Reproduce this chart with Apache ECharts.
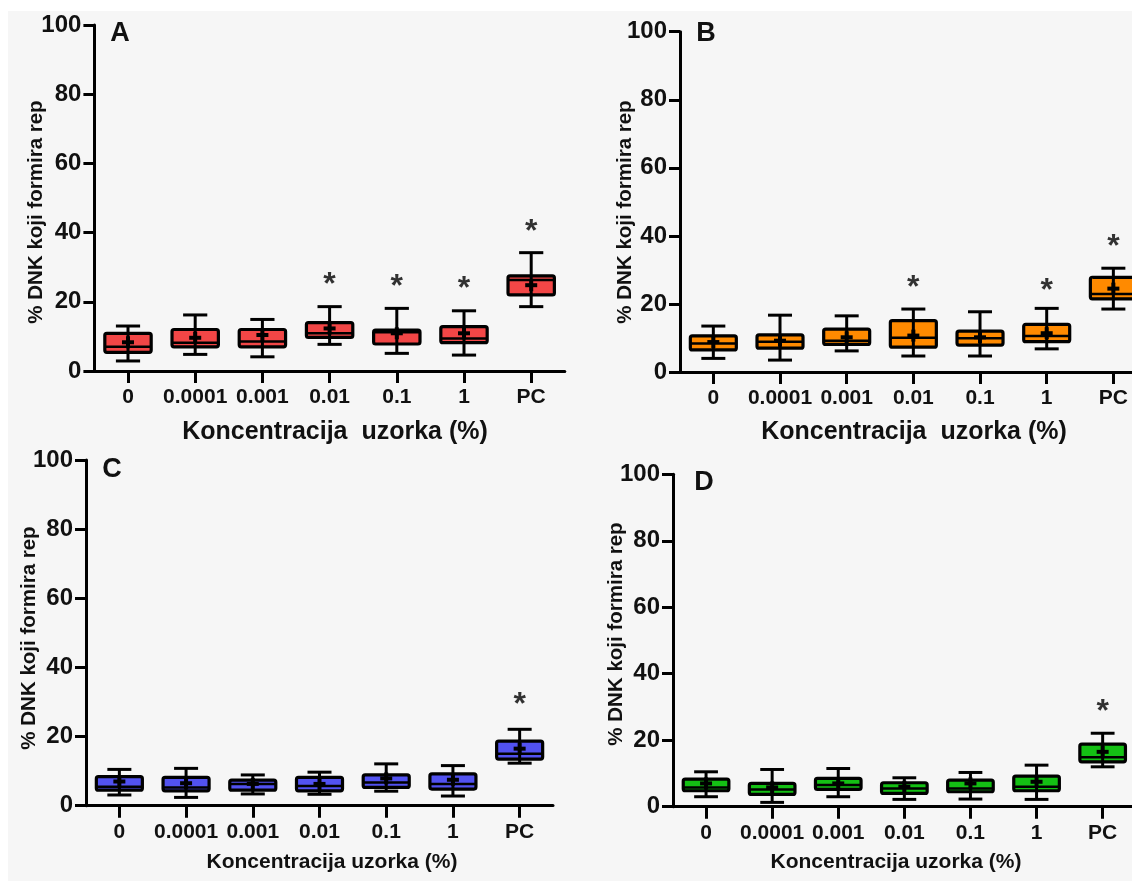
<!DOCTYPE html>
<html><head><meta charset="utf-8">
<script src="https://cdn.jsdelivr.net/npm/echarts@6/dist/echarts.min.js"></script>
<style>html,body{margin:0;padding:0;background:#ffffff}#c{width:1132px;height:881px}</style>
</head><body><div id="c"></div>
<script>
const categories = ['0', '0.0001', '0.001', '0.01', '0.1', '1', 'PC'];
const yTickMin = 0, yTickMax = 100, yTickStep = 20;

// Panel A (red)
const aMin  = [2.9, 4.8, 4.1, 7.7, 5.1, 4.6, 18.6];
const aQ1   = [5.4, 7.0, 7.0, 9.7, 7.8, 8.2, 22.0];
const aMed  = [7.0, 8.2, 8.5, 10.9, 11.2, 9.4, 26.3];
const aQ3   = [10.9, 12.0, 12.0, 14.0, 11.8, 12.8, 27.5];
const aMax  = [13.0, 16.2, 14.9, 18.6, 18.1, 17.4, 34.2];
const aMean = [8.3, 9.6, 10.4, 12.3, 10.9, 10.9, 24.8];
const aStar = [null, null, null, 26.8, 26.3, 25.8, 42.2];

// Panel B (orange)
const bMin  = [4.0, 3.5, 6.2, 4.7, 4.7, 6.8, 18.5];
const bQ1   = [6.5, 7.0, 8.1, 7.3, 7.9, 8.9, 21.5];
const bMed  = [8.4, 8.9, 9.2, 10.1, 9.9, 10.6, 22.9];
const bQ3   = [10.6, 10.9, 12.6, 15.1, 12.0, 14.0, 27.8];
const bMax  = [13.5, 16.7, 16.5, 18.5, 17.7, 18.7, 30.5];
const bMean = [8.8, 9.2, 10.2, 10.7, 10.2, 11.4, 24.5];
const bStar = [null, null, null, 26.7, null, 25.8, 38.8];

// Panel C (blue)
const cMin  = [3.1, 2.4, 3.4, 3.3, 4.2, 2.8, 12.3];
const cQ1   = [4.5, 4.3, 4.5, 4.3, 5.3, 4.8, 13.5];
const cMed  = [5.5, 5.3, 6.3, 5.7, 6.7, 6.3, 15.0];
const cQ3   = [8.4, 8.2, 7.4, 8.2, 8.9, 9.2, 18.7];
const cMax  = [10.5, 10.8, 8.9, 9.7, 12.1, 11.6, 22.1];
const cMean = [7.0, 6.5, 6.3, 6.3, 7.9, 7.5, 16.5];
const cStar = [null, null, null, null, null, null, 31.1];

// Panel D (green)
const dMin  = [3.0, 1.3, 3.0, 2.2, 2.3, 2.2, 12.0];
const dQ1   = [4.8, 3.7, 5.2, 4.0, 4.5, 4.8, 13.5];
const dMed  = [5.8, 5.2, 6.5, 5.5, 5.5, 6.0, 14.9];
const dQ3   = [8.3, 7.0, 8.5, 7.2, 8.0, 9.2, 18.8];
const dMax  = [10.5, 11.2, 11.5, 8.7, 10.3, 12.5, 22.1];
const dMean = [7.0, 5.8, 7.0, 6.0, 7.0, 7.5, 16.5];
const dStar = [null, null, null, null, null, null, 30.6];

const panelLetters = ['A', 'B', 'C', 'D'];
const xTitles = ['Koncentracija  uzorka (%)', 'Koncentracija  uzorka (%)', 'Koncentracija uzorka (%)', 'Koncentracija uzorka (%)'];
const yTitle = '% DNK koji formira rep';

const FONT = "'Liberation Sans Narrow', 'Liberation Sans', Arial, sans-serif";
const FONT_W = "'Liberation Sans', Arial, sans-serif";

const panels = [
  {min: aMin, q1: aQ1, med: aMed, q3: aQ3, max: aMax, mean: aMean, star: aStar, color: '#f24646',
   grid: {left: 94.4, top: 25, width: 470.4, height: 346}},
  {min: bMin, q1: bQ1, med: bMed, q3: bQ3, max: bMax, mean: bMean, star: bStar, color: '#ff8a00',
   grid: {left: 680, top: 31.7, width: 466.7, height: 340.3}},
  {min: cMin, q1: cQ1, med: cMed, q3: cQ3, max: cMax, mean: cMean, star: cStar, color: '#5252f0',
   grid: {left: 86, top: 460, width: 467, height: 345.7}},
  {min: dMin, q1: dQ1, med: dMed, q3: dQ3, max: dMax, mean: dMean, star: dStar, color: '#14c014',
   grid: {left: 673, top: 474.3, width: 462.7, height: 332.4}}
];

function makeRender(color) {
  return function (params, api) {
    const x = api.value(0);
    const lo = api.coord([x, api.value(1)]);
    const q1 = api.coord([x, api.value(2)]);
    const md = api.coord([x, api.value(3)]);
    const q3 = api.coord([x, api.value(4)]);
    const hi = api.coord([x, api.value(5)]);
    const mn = api.coord([x, api.value(6)]);
    const band = api.size([1, 0])[0];
    const bw = band * 0.69, cw = band * 0.36;
    const cx = lo[0];
    const st = {stroke: '#000', lineWidth: 3};
    return {
      type: 'group',
      children: [
        {type: 'rect', shape: {x: cx - bw / 2, y: q3[1], width: bw, height: q1[1] - q3[1], r: 2},
         style: {fill: color, stroke: '#000', lineWidth: 3.2}},
        {type: 'line', shape: {x1: cx, y1: hi[1], x2: cx, y2: lo[1]}, style: st},
        {type: 'line', shape: {x1: cx - cw / 2, y1: hi[1], x2: cx + cw / 2, y2: hi[1]}, style: st},
        {type: 'line', shape: {x1: cx - cw / 2, y1: lo[1], x2: cx + cw / 2, y2: lo[1]}, style: st},
        {type: 'line', shape: {x1: cx - bw / 2, y1: md[1], x2: cx + bw / 2, y2: md[1]}, style: {stroke: '#000', lineWidth: 2.5}},
        {type: 'line', shape: {x1: cx - 6, y1: mn[1], x2: cx + 6, y2: mn[1]}, style: {stroke: '#000', lineWidth: 4}},
        {type: 'line', shape: {x1: cx, y1: mn[1] - 6, x2: cx, y2: mn[1] + 6}, style: {stroke: '#000', lineWidth: 4}}
      ]
    };
  };
}

const grids = [], xAxes = [], yAxes = [], series = [];
panels.forEach(function (p, i) {
  grids.push(Object.assign({outerBoundsMode: 'none', containLabel: false}, p.grid));
  xAxes.push({
    type: 'category', gridIndex: i, data: categories, boundaryGap: true,
    axisLine: {show: true, lineStyle: {color: '#000', width: 3}},
    axisTick: {show: true, alignWithLabel: true, length: 12, lineStyle: {color: '#000', width: 3}},
    axisLabel: {color: '#111', fontSize: 21, fontWeight: 'bold', fontFamily: FONT, margin: 16, interval: 0},
    splitLine: {show: false}
  });
  yAxes.push({
    type: 'value', gridIndex: i, min: yTickMin, max: yTickMax, interval: yTickStep,
    axisLine: {show: true, lineStyle: {color: '#000', width: 3}},
    axisTick: {show: true, length: 11, lineStyle: {color: '#000', width: 3}},
    axisLabel: {color: '#111', fontSize: 24, fontWeight: 'bold', fontFamily: FONT, margin: 13},
    splitLine: {show: false}
  });
  const data = categories.map(function (c, k) {
    return [k, p.min[k], p.q1[k], p.med[k], p.q3[k], p.max[k], p.mean[k]];
  });
  series.push({
    type: 'custom', xAxisIndex: i, yAxisIndex: i, renderItem: makeRender(p.color),
    encode: {x: 0, y: [1, 2, 3, 4, 5]}, data: data, silent: true, animation: false
  });
  const stars = [];
  p.star.forEach(function (v, k) { if (v !== null) stars.push([k, v]); });
  series.push({
    type: 'scatter', xAxisIndex: i, yAxisIndex: i, data: stars, symbolSize: 1,
    itemStyle: {color: 'rgba(0,0,0,0)'}, silent: true, animation: false,
    label: {show: true, formatter: '*', position: 'inside', offset: [0, 7],
            fontSize: 32, fontWeight: 'bold', color: '#000', fontFamily: FONT_W}
  });
});

const letterPos = [[120, 34], [706, 34], [112, 470], [704, 483]];
const xTitlePos = [[335, 432], [914, 432], [332, 862], [896, 862]];
const xTitleSize = [25, 25, 21, 21];
const yTitlePos = [[36, 212], [625, 212], [29, 638], [616, 634]];

const graphic = [{type: 'rect', left: 8, top: 11, shape: {width: 1124, height: 870}, style: {fill: '#f6f6f6'}, z: -10}];
for (let i = 0; i < 4; i++) {
  graphic.push({type: 'text', x: letterPos[i][0], y: letterPos[i][1],
    style: {text: panelLetters[i], align: 'center', verticalAlign: 'middle', font: 'bold 27px ' + FONT_W, fill: '#111'}});
  graphic.push({type: 'text', x: xTitlePos[i][0], y: xTitlePos[i][1],
    style: {text: xTitles[i], align: 'center', verticalAlign: 'middle', font: 'bold ' + xTitleSize[i] + 'px ' + FONT, fill: '#111'}});
  graphic.push({type: 'text', x: yTitlePos[i][0], y: yTitlePos[i][1], rotation: Math.PI / 2,
    style: {text: yTitle, align: 'center', verticalAlign: 'middle', font: 'bold 20.5px ' + FONT_W, fill: '#111'}});
}

const chart = echarts.init(document.getElementById('c'), null, {renderer: 'canvas'});
chart.setOption({
  animation: false,
  backgroundColor: '#ffffff',
  grid: grids, xAxis: xAxes, yAxis: yAxes, series: series, graphic: graphic
});
</script>
</body></html>
